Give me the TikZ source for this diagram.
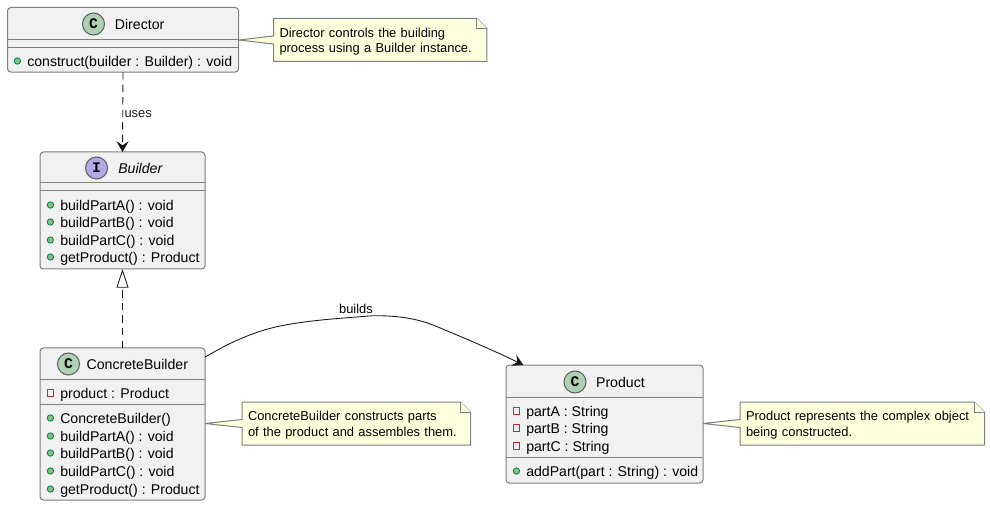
\documentclass[tikz,border=0pt]{standalone}
\usepackage{fontspec}
\setmainfont{Liberation Sans}
\newfontfamily\iconfont{Liberation Mono}
\usetikzlibrary{arrows.meta, positioning, calc, backgrounds}
\definecolor{boxfill}{HTML}{F1F1F1}
\definecolor{edge}{HTML}{181818}
\definecolor{border}{HTML}{7F7F7F}
\definecolor{notefill}{HTML}{FEFFDD}
\definecolor{classicon}{HTML}{ADD1B2}
\definecolor{ifaceicon}{HTML}{B4A7E5}
\definecolor{pubfill}{HTML}{84BE84}
\definecolor{publine}{HTML}{038048}
\definecolor{privline}{HTML}{C82930}

\begin{document}
\begin{tikzpicture}[
  x=0.75pt, y=-0.75pt,
  box/.style={draw=border, fill=boxfill, line width=0.75pt, rounded corners=2.5pt,
              anchor=north west, inner sep=0pt, outer sep=0pt},
  sep/.style={draw=border, line width=0.75pt},
  badge/.style={circle, draw=edge!70, line width=0.75pt, minimum size=16.5pt, inner sep=0pt,
                font=\iconfont\fontsize{11pt}{11pt}\bfseries},
  classname/.style={font=\fontsize{10.6pt}{12pt}\selectfont, inner sep=0pt},
  member/.style={font=\fontsize{10.58pt}{12pt}\selectfont, inner sep=0pt, anchor=west,
                 text height=9.5pt, text depth=0.8pt},
  pub/.style={circle, draw=publine, fill=pubfill, line width=0.6pt, minimum size=4.8pt, inner sep=0pt},
  priv/.style={rectangle, draw=privline, line width=0.6pt, minimum size=4.8pt, inner sep=0pt},
  note/.style={anchor=north west, inner xsep=4.5pt, inner ysep=0pt, outer sep=0pt, align=left,
               font=\fontsize{9.68pt}{11.6pt}\selectfont, minimum height=32.25pt,
               execute at begin node=\rule{0pt}{9.6pt}},
  notebody/.style={draw=border, fill=notefill, line width=0.75pt},
  edgelabel/.style={font=\fontsize{9.68pt}{11.6pt}\selectfont, inner sep=0pt},
  dep/.style={edge, line width=0.65pt, dash pattern=on 5.6pt off 3.8pt,
              -{Stealth[length=8pt, width=9pt, inset=3pt, fill=edge]}},
  impl/.style={edge, line width=0.65pt, dash pattern=on 5.6pt off 3.8pt,
               -{Triangle[open, length=14pt, width=9pt, fill=white]}},
  arr/.style={edge, line width=0.65pt, -{Stealth[length=8pt, width=9pt, inset=3pt, fill=edge]}}
]
  \useasboundingbox (0,0) rectangle (990,506);

  % class boxes
  \node[box, minimum width=173.25pt, minimum height=48.4pt] (director) at (7.5,7.5) {};
  \node[box, minimum width=123.75pt, minimum height=87.75pt] (builder) at (40,152) {};
  \node[box, minimum width=123.75pt, minimum height=114pt] (cbuilder) at (40,348) {};
  \node[box, minimum width=147.75pt, minimum height=88.5pt] (product) at (506,365) {};

  \draw[sep] ($(director.north west)+(0,32)$) -- ($(director.north east)+(0,32)$);
  \draw[sep] ($(director.north west)+(0,40)$) -- ($(director.north east)+(0,40)$);
  \draw[sep] ($(builder.north west)+(0,31)$) -- ($(builder.north east)+(0,31)$);
  \draw[sep] ($(builder.north west)+(0,39)$) -- ($(builder.north east)+(0,39)$);
  \draw[sep] ($(cbuilder.north west)+(0,31)$) -- ($(cbuilder.north east)+(0,31)$);
  \draw[sep] ($(cbuilder.north west)+(0,56)$) -- ($(cbuilder.north east)+(0,56)$);
  \draw[sep] ($(product.north west)+(0,32)$) -- ($(product.north east)+(0,32)$);
  \draw[sep] ($(product.north west)+(0,92)$) -- ($(product.north east)+(0,92)$);

  % headers
  \node[badge, fill=classicon] (directorBadge) at (93.5,24) {C};
  \node[classname, right=7.2pt of directorBadge] (directorName) {Director};
  \node[badge, fill=ifaceicon] (builderBadge) at (96.5,168) {I};
  \node[classname, right=7.5pt of builderBadge] (builderName) {\itshape Builder};
  \node[badge, fill=classicon] (cbuilderBadge) at (68.5,364) {C};
  \node[classname, right=4.8pt of cbuilderBadge] (cbuilderName) {ConcreteBuilder};
  \node[badge, fill=classicon] (productBadge) at (575,382) {C};
  \node[classname, right=7pt of productBadge] (productName) {Product};

  % members
  \node[member] (directorM) at (27,61) {construct(builder : Builder) : void};
  \node[pub, left=4.5pt of directorM] (directorMicon) {};

  \foreach \n/\y/\txt in {A/205/buildPartA() : void, B/222/buildPartB() : void,
                          C/240/buildPartC() : void, D/257/getProduct() : Product} {
    \node[member] (builderM\n) at (60,\y) {\txt};
    \node[pub, left=4.5pt of builderM\n] (builderIcon\n) {};
  }

  \node[member] (cbuilderF) at (60,393) {product : Product};
  \node[priv, left=4.5pt of cbuilderF] (cbuilderFicon) {};
  \foreach \n/\y/\txt in {A/418/ConcreteBuilder(), B/436/buildPartA() : void, C/453/buildPartB() : void,
                          D/471/buildPartC() : void, E/489/getProduct() : Product} {
    \node[member] (cbuilderM\n) at (60,\y) {\txt};
    \node[pub, left=4.5pt of cbuilderM\n] (cbuilderIcon\n) {};
  }

  \foreach \n/\y/\txt in {A/411/partA : String, B/428/partB : String, C/446/partC : String} {
    \node[member] (productF\n) at (526,\y) {\txt};
    \node[priv, left=4.5pt of productF\n] (productIcon\n) {};
  }
  \node[member] (productM) at (526,471) {addPart(part : String) : void};
  \node[pub, left=4.5pt of productM] (productMicon) {};

  % notes
  \node[note, minimum width=160.1pt, text width=151.1pt] (directorNote) at (273.5,18.5)
    {Director controls the building\\process using a Builder instance.};
  \node[note, minimum width=171.4pt, text width=162.4pt] (cbuilderNote) at (242,402)
    {ConcreteBuilder constructs parts\\of the product and assembles them.};
  \node[note, minimum width=183.4pt, text width=174.4pt] (productNote) at (740,402)
    {Product represents the complex object\\being constructed.};

  \begin{scope}[on background layer]
    \foreach \b in {director, cbuilder, product} {
      \coordinate (\b Tip) at (\b.east |- \b Note.west);
      \draw[notebody] (\b Note.north west) -- ($(\b Note.north east)+(-10,0)$)
        -- ($(\b Note.north east)+(0,10)$) -- (\b Note.south east) -- (\b Note.south west)
        -- ($(\b Note.west)+(0,4)$) -- (\b Tip) -- ($(\b Note.west)+(0,-4)$) -- cycle;
      \draw[notebody] ($(\b Note.north east)+(-10,0)$) -- ($(\b Note.north east)+(-10,10)$)
        -- ($(\b Note.north east)+(0,10)$);
    }
  \end{scope}

  % relations
  \draw[dep] (director.south) -- node[edgelabel, right=1pt, yshift=-1.5pt] (usesLabel) {uses} (builder.north);
  \draw[impl] (cbuilder.north) -- (builder.south);
  \draw[arr] (cbuilder.39.5) .. controls (232,341) and (258,330) .. (283,325.5)
    .. controls (310,320) and (345,318) .. (373,315.7)
    .. controls (395,315.5) and (415,318) .. (433,325)
    .. controls (462,337) and (495,351) .. (product.144);
  \node[edgelabel] (buildsLabel) at (356,309) {builds};
\end{tikzpicture}
\end{document}
